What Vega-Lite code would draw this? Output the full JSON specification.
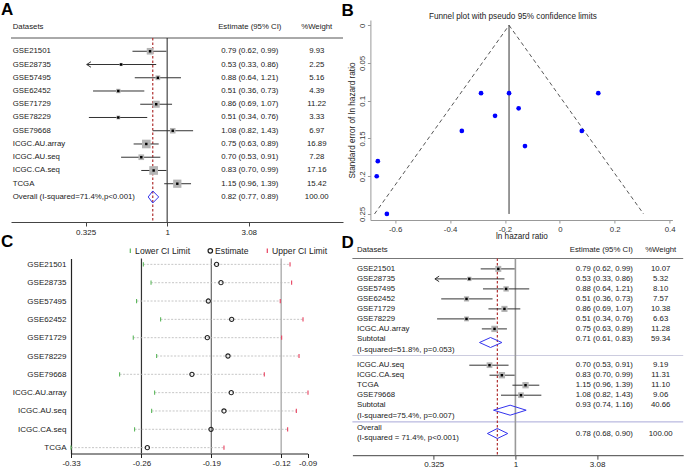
{
"$schema": "https://vega.github.io/schema/vega-lite/v6.json",
"padding": {"left": 1, "top": 1, "right": 0, "bottom": 0},
"background": "white",
"config": {"font": "Liberation Sans", "view": {"stroke": null}, "axis": {"grid": false}},
"datasets": {
"A": [
{"kind":"header","r":-1.83,"label":"Datasets","est":"Estimate (95% CI)","wt":"%Weight"},
{"kind":"study","r":0,"label":"GSE21501","hr":0.79,"lo":0.62,"hi":0.99,"w":9.93,"est":"0.79 (0.62, 0.99)","wt":"9.93"},
{"kind":"study","r":1,"label":"GSE28735","hr":0.53,"lo":0.33,"hi":0.86,"w":2.25,"est":"0.53 (0.33, 0.86)","wt":"2.25"},
{"kind":"study","r":2,"label":"GSE57495","hr":0.88,"lo":0.64,"hi":1.21,"w":5.16,"est":"0.88 (0.64, 1.21)","wt":"5.16"},
{"kind":"study","r":3,"label":"GSE62452","hr":0.51,"lo":0.36,"hi":0.73,"w":4.39,"est":"0.51 (0.36, 0.73)","wt":"4.39"},
{"kind":"study","r":4,"label":"GSE71729","hr":0.86,"lo":0.69,"hi":1.07,"w":11.22,"est":"0.86 (0.69, 1.07)","wt":"11.22"},
{"kind":"study","r":5,"label":"GSE78229","hr":0.51,"lo":0.34,"hi":0.76,"w":3.33,"est":"0.51 (0.34, 0.76)","wt":"3.33"},
{"kind":"study","r":6,"label":"GSE79668","hr":1.08,"lo":0.82,"hi":1.43,"w":6.97,"est":"1.08 (0.82, 1.43)","wt":"6.97"},
{"kind":"study","r":7,"label":"ICGC.AU.array","hr":0.75,"lo":0.63,"hi":0.89,"w":16.89,"est":"0.75 (0.63, 0.89)","wt":"16.89"},
{"kind":"study","r":8,"label":"ICGC.AU.seq","hr":0.70,"lo":0.53,"hi":0.91,"w":7.28,"est":"0.70 (0.53, 0.91)","wt":"7.28"},
{"kind":"study","r":9,"label":"ICGC.CA.seq","hr":0.83,"lo":0.70,"hi":0.99,"w":17.16,"est":"0.83 (0.70, 0.99)","wt":"17.16"},
{"kind":"study","r":10,"label":"TCGA","hr":1.15,"lo":0.96,"hi":1.39,"w":15.42,"est":"1.15 (0.96, 1.39)","wt":"15.42"},
{"kind":"overall","r":11,"label":"Overall (I-squared=71.4%,p<0.001)","hr":0.82,"lo":0.77,"hi":0.89,"w":100,"est":"0.82 (0.77, 0.89)","wt":"100.00"}
],
"B": [
{"s":"GSE21501","lnhr":-0.236,"se":0.12},
{"s":"GSE28735","lnhr":-0.63,"se":0.25},
{"s":"GSE57495","lnhr":-0.127,"se":0.16},
{"s":"GSE62452","lnhr":-0.663,"se":0.18},
{"s":"GSE71729","lnhr":-0.15,"se":0.11},
{"s":"GSE78229","lnhr":-0.667,"se":0.2},
{"s":"GSE79668","lnhr":0.08,"se":0.14},
{"s":"ICGC.AU.array","lnhr":-0.287,"se":0.09},
{"s":"ICGC.AU.seq","lnhr":-0.357,"se":0.14},
{"s":"ICGC.CA.seq","lnhr":-0.185,"se":0.09},
{"s":"TCGA","lnhr":0.14,"se":0.09}
],
"Bf": [
{"side":"L","x":-0.185,"se":0},{"side":"L","x":-0.675,"se":0.25},
{"side":"R","x":-0.185,"se":0},{"side":"R","x":0.305,"se":0.25}
],
"C": [
{"study":"GSE21501","Lower CI Limit":-0.2581,"Estimate":-0.1847,"Upper CI Limit":-0.1111},
{"study":"GSE28735","Lower CI Limit":-0.2504,"Estimate":-0.1803,"Upper CI Limit":-0.1095},
{"study":"GSE57495","Lower CI Limit":-0.2649,"Estimate":-0.1930,"Upper CI Limit":-0.1209},
{"study":"GSE62452","Lower CI Limit":-0.2408,"Estimate":-0.1696,"Upper CI Limit":-0.0981},
{"study":"GSE71729","Lower CI Limit":-0.2682,"Estimate":-0.1940,"Upper CI Limit":-0.1195},
{"study":"GSE78229","Lower CI Limit":-0.2448,"Estimate":-0.1733,"Upper CI Limit":-0.1021},
{"study":"GSE79668","Lower CI Limit":-0.2819,"Estimate":-0.2094,"Upper CI Limit":-0.1369},
{"study":"ICGC.AU.array","Lower CI Limit":-0.2468,"Estimate":-0.1700,"Upper CI Limit":-0.0931},
{"study":"ICGC.AU.seq","Lower CI Limit":-0.2498,"Estimate":-0.1773,"Upper CI Limit":-0.1048},
{"study":"ICGC.CA.seq","Lower CI Limit":-0.2669,"Estimate":-0.1903,"Upper CI Limit":-0.1135},
{"study":"TCGA","Lower CI Limit":-0.3306,"Estimate":-0.2541,"Upper CI Limit":-0.1773}
],
"D": [
{"kind":"header","r":-1.94,"label":"Datasets","est":"Estimate (95% CI)","wt":"%Weight"},
{"kind":"study","r":0,"label":"GSE21501","hr":0.79,"lo":0.62,"hi":0.99,"w":10.07,"est":"0.79 (0.62, 0.99)","wt":"10.07"},
{"kind":"study","r":1,"label":"GSE28735","hr":0.53,"lo":0.33,"hi":0.86,"w":5.32,"est":"0.53 (0.33, 0.86)","wt":"5.32"},
{"kind":"study","r":2,"label":"GSE57495","hr":0.88,"lo":0.64,"hi":1.21,"w":8.10,"est":"0.88 (0.64, 1.21)","wt":"8.10"},
{"kind":"study","r":3,"label":"GSE62452","hr":0.51,"lo":0.36,"hi":0.73,"w":7.57,"est":"0.51 (0.36, 0.73)","wt":"7.57"},
{"kind":"study","r":4,"label":"GSE71729","hr":0.86,"lo":0.69,"hi":1.07,"w":10.38,"est":"0.86 (0.69, 1.07)","wt":"10.38"},
{"kind":"study","r":5,"label":"GSE78229","hr":0.51,"lo":0.34,"hi":0.76,"w":6.63,"est":"0.51 (0.34, 0.76)","wt":"6.63"},
{"kind":"study","r":6,"label":"ICGC.AU.array","hr":0.75,"lo":0.63,"hi":0.89,"w":11.28,"est":"0.75 (0.63, 0.89)","wt":"11.28"},
{"kind":"text","r":7,"label":"Subtotal","est":"0.71 (0.61, 0.83)","wt":"59.34"},
{"kind":"text","r":8.06,"label":"(I-squared=51.8%, p=0.053)"},
{"kind":"diamond","r":7.36,"hr":0.71,"lo":0.61,"hi":0.83},
{"kind":"study","r":9.63,"label":"ICGC.AU.seq","hr":0.70,"lo":0.53,"hi":0.91,"w":9.19,"est":"0.70 (0.53, 0.91)","wt":"9.19"},
{"kind":"study","r":10.63,"label":"ICGC.CA.seq","hr":0.83,"lo":0.70,"hi":0.99,"w":11.31,"est":"0.83 (0.70, 0.99)","wt":"11.31"},
{"kind":"study","r":11.63,"label":"TCGA","hr":1.15,"lo":0.96,"hi":1.39,"w":11.10,"est":"1.15 (0.96, 1.39)","wt":"11.10"},
{"kind":"study","r":12.63,"label":"GSE79668","hr":1.08,"lo":0.82,"hi":1.43,"w":9.06,"est":"1.08 (0.82, 1.43)","wt":"9.06"},
{"kind":"text","r":13.63,"label":"Subtotal","est":"0.93 (0.74, 1.16)","wt":"40.66"},
{"kind":"text","r":14.73,"label":"(I-squared=75.4%, p=0.007)"},
{"kind":"diamond","r":14.13,"hr":0.93,"lo":0.74,"hi":1.16},
{"kind":"text","r":15.9,"label":"Overall"},
{"kind":"text","r":16.46,"est":"0.78 (0.68, 0.90)","wt":"100.00"},
{"kind":"text","r":16.9,"label":"(I-squared = 71.4%, p<0.001)"},
{"kind":"diamond","r":16.46,"hr":0.78,"lo":0.68,"hi":0.90}
]
},
"spacing": -7.5,
"resolve": {"scale": {"color": "independent", "shape": "independent", "size": "independent"}},
"vconcat": [
{
"resolve": {"scale": {"color": "independent", "shape": "independent", "size": "independent"}},
"hconcat": [
{
"width": 272, "height": 202,
"title": {"text": "A", "anchor": "start", "frame": "group", "dx": -70, "offset": -12, "fontSize": 17, "fontWeight": "bold", "baseline": "alphabetic", "color": "#000"},
"data": {"name": "A"},
"layer": [
{"data": {"values": [{}]}, "mark": {"type": "rule", "color": "#555", "strokeWidth": 1}, "encoding": {"x": {"datum": 0.1162, "type": "quantitative", "scale": {"type": "log", "domain": [0.1162, 11.29], "range": [-60, 272], "nice": false}}, "x2": {"datum": 11.29}, "y": {"datum": -1.0, "type": "quantitative", "scale": {"domain": [-2.36, 12.89], "reverse": true, "nice": false, "zero": false}, "axis": null}}},
{"data": {"values": [{}]}, "mark": {"type": "rule", "color": "#222", "strokeWidth": 1}, "encoding": {"x": {"datum": 1, "type": "quantitative", "scale": {"type": "log", "domain": [0.1162, 11.29], "range": [-60, 272], "nice": false}, "axis": {"values": [0.325, 1, 3.08], "labelExpr": "datum.value < 0.5 ? '0.325' : (datum.value < 2 ? '1' : '3.08')", "title": null, "domainColor": "#444", "tickColor": "#444", "tickSize": 4, "labelFontSize": 8, "labelColor": "#222", "labelPadding": 2, "labelFlush": false}}, "y": {"datum": -1.0, "type": "quantitative", "scale": {"domain": [-2.36, 12.89], "reverse": true, "nice": false, "zero": false}, "axis": null}, "y2": {"datum": 12.89}}},
{"data": {"values": [{}]}, "mark": {"type": "rule", "color": "#b03030", "strokeWidth": 1.2, "strokeDash": [2.5, 2]}, "encoding": {"x": {"datum": 0.82, "type": "quantitative", "scale": {"type": "log", "domain": [0.1162, 11.29], "range": [-60, 272], "nice": false}}, "y": {"datum": -1.0, "type": "quantitative", "scale": {"domain": [-2.36, 12.89], "reverse": true, "nice": false, "zero": false}, "axis": null}, "y2": {"datum": 12.89}}},
{"transform": [{"filter": "datum.kind == 'study'"}], "mark": {"type": "rule", "color": "#333", "strokeWidth": 1}, "encoding": {"x": {"field": "lo", "type": "quantitative", "title": null, "scale": {"type": "log", "domain": [0.1162, 11.29], "range": [-60, 272], "nice": false}}, "x2": {"field": "hi"}, "y": {"field": "r", "type": "quantitative", "scale": {"domain": [-2.36, 12.89], "reverse": true, "nice": false, "zero": false}, "axis": null}}},
{"transform": [{"filter": "datum.kind == 'study'"}], "mark": {"type": "point", "shape": "square", "filled": true, "color": "#b4b4b4", "opacity": 1}, "encoding": {"x": {"field": "hr", "type": "quantitative", "title": null, "scale": {"type": "log", "domain": [0.1162, 11.29], "range": [-60, 272], "nice": false}}, "y": {"field": "r", "type": "quantitative", "scale": {"domain": [-2.36, 12.89], "reverse": true, "nice": false, "zero": false}, "axis": null}, "size": {"field": "w", "type": "quantitative", "scale": {"domain": [0, 100], "range": [0, 440]}, "legend": null}}},
{"transform": [{"filter": "datum.kind == 'study'"}], "mark": {"type": "point", "shape": "square", "filled": true, "color": "#000", "size": 6, "opacity": 1}, "encoding": {"x": {"field": "hr", "type": "quantitative", "title": null, "scale": {"type": "log", "domain": [0.1162, 11.29], "range": [-60, 272], "nice": false}}, "y": {"field": "r", "type": "quantitative", "scale": {"domain": [-2.36, 12.89], "reverse": true, "nice": false, "zero": false}, "axis": null}}},
{"transform": [{"filter": "datum.kind == 'study' && datum.lo <= 0.33"}], "mark": {"type": "point", "shape": "M2,-1.3L0,0L2,1.3", "filled": false, "color": "#333", "size": 18, "strokeWidth": 1, "opacity": 1}, "encoding": {"x": {"field": "lo", "type": "quantitative", "title": null, "scale": {"type": "log", "domain": [0.1162, 11.29], "range": [-60, 272], "nice": false}}, "y": {"field": "r", "type": "quantitative", "scale": {"domain": [-2.36, 12.89], "reverse": true, "nice": false, "zero": false}, "axis": null}}},
{"transform": [{"filter": "datum.kind == 'overall'"}], "mark": {"type": "rule", "color": "#3333ee", "strokeWidth": 1, "y2Offset": -6}, "encoding": {"x": {"field": "lo", "type": "quantitative", "title": null, "scale": {"type": "log", "domain": [0.1162, 11.29], "range": [-60, 272], "nice": false}}, "x2": {"field": "hr"}, "y": {"field": "r", "type": "quantitative", "scale": {"domain": [-2.36, 12.89], "reverse": true, "nice": false, "zero": false}, "axis": null}, "y2": {"field": "r"}}},
{"transform": [{"filter": "datum.kind == 'overall'"}], "mark": {"type": "rule", "color": "#3333ee", "strokeWidth": 1, "y2Offset": 6}, "encoding": {"x": {"field": "lo", "type": "quantitative", "title": null, "scale": {"type": "log", "domain": [0.1162, 11.29], "range": [-60, 272], "nice": false}}, "x2": {"field": "hr"}, "y": {"field": "r", "type": "quantitative", "scale": {"domain": [-2.36, 12.89], "reverse": true, "nice": false, "zero": false}, "axis": null}, "y2": {"field": "r"}}},
{"transform": [{"filter": "datum.kind == 'overall'"}], "mark": {"type": "rule", "color": "#3333ee", "strokeWidth": 1, "yOffset": -6}, "encoding": {"x": {"field": "hr", "type": "quantitative", "title": null, "scale": {"type": "log", "domain": [0.1162, 11.29], "range": [-60, 272], "nice": false}}, "x2": {"field": "hi"}, "y": {"field": "r", "type": "quantitative", "scale": {"domain": [-2.36, 12.89], "reverse": true, "nice": false, "zero": false}, "axis": null}, "y2": {"field": "r"}}},
{"transform": [{"filter": "datum.kind == 'overall'"}], "mark": {"type": "rule", "color": "#3333ee", "strokeWidth": 1, "yOffset": 6}, "encoding": {"x": {"field": "hr", "type": "quantitative", "title": null, "scale": {"type": "log", "domain": [0.1162, 11.29], "range": [-60, 272], "nice": false}}, "x2": {"field": "hi"}, "y": {"field": "r", "type": "quantitative", "scale": {"domain": [-2.36, 12.89], "reverse": true, "nice": false, "zero": false}, "axis": null}, "y2": {"field": "r"}}},
{"mark": {"type": "text", "align": "left", "baseline": "middle", "fontSize": 7.8, "color": "#222"}, "encoding": {"x": {"datum": 0.119, "type": "quantitative", "scale": {"type": "log", "domain": [0.1162, 11.29], "range": [-60, 272], "nice": false}}, "y": {"field": "r", "type": "quantitative", "scale": {"domain": [-2.36, 12.89], "reverse": true, "nice": false, "zero": false}, "axis": null}, "text": {"field": "label"}}},
{"mark": {"type": "text", "align": "center", "baseline": "middle", "fontSize": 7.8, "color": "#222"}, "encoding": {"x": {"datum": 3.124, "type": "quantitative", "scale": {"type": "log", "domain": [0.1162, 11.29], "range": [-60, 272], "nice": false}}, "y": {"field": "r", "type": "quantitative", "scale": {"domain": [-2.36, 12.89], "reverse": true, "nice": false, "zero": false}, "axis": null}, "text": {"field": "est"}}},
{"mark": {"type": "text", "align": "center", "baseline": "middle", "fontSize": 7.8, "color": "#222"}, "encoding": {"x": {"datum": 7.86, "type": "quantitative", "scale": {"type": "log", "domain": [0.1162, 11.29], "range": [-60, 272], "nice": false}}, "y": {"field": "r", "type": "quantitative", "scale": {"domain": [-2.36, 12.89], "reverse": true, "nice": false, "zero": false}, "axis": null}, "text": {"field": "wt"}}}
]
},
{
"width": 302, "height": 200,
"title": {"text": "B", "anchor": "start", "frame": "group", "dx": -29, "offset": -21, "fontSize": 17, "fontWeight": "bold", "baseline": "alphabetic", "color": "#000"},
"layer": [
{"data": {"name": "Bf"}, "mark": {"type": "line", "color": "#444", "strokeWidth": 0.9, "strokeDash": [4, 3]}, "encoding": {"x": {"field": "x", "type": "quantitative", "scale": {"domain": [-0.69, 0.41], "nice": false, "zero": false}, "axis": {"orient": "top", "title": "Funnel plot with pseudo 95% confidence limits", "labels": false, "ticks": false, "domain": false, "titleFontSize": 8.2, "titleFontWeight": "normal", "titleColor": "#222", "titleX": 142, "titleY": -1.5, "titleBaseline": "alphabetic", "titleAlign": "center"}}, "y": {"field": "se", "type": "quantitative", "scale": {"domain": [-0.007, 0.258], "reverse": true, "nice": false, "zero": false}, "axis": {"values": [0, 0.05, 0.1, 0.15, 0.2, 0.25], "format": "~g", "labelAngle": -90, "labelAlign": "center", "labelBaseline": "bottom", "labelPadding": 1, "labelOverlap": false, "tickSize": 3, "title": "Standard error of ln hazard ratio", "titleFontSize": 8.2, "titleFontWeight": "normal", "titleColor": "#222", "titlePadding": 2, "domainColor": "#999", "tickColor": "#999", "labelFontSize": 7.8, "labelColor": "#333"}}, "detail": {"field": "side"}}},
{"data": {"values": [{}]}, "mark": {"type": "rule", "color": "#333", "strokeWidth": 1}, "encoding": {"x": {"datum": -0.185, "type": "quantitative", "scale": {"domain": [-0.69, 0.41], "nice": false, "zero": false}, "axis": null}, "y": {"datum": 0, "type": "quantitative", "scale": {"domain": [-0.007, 0.258], "reverse": true, "nice": false, "zero": false}, "axis": {"values": [0, 0.05, 0.1, 0.15, 0.2, 0.25], "format": "~g", "labelAngle": -90, "labelAlign": "center", "labelBaseline": "bottom", "labelPadding": 1, "labelOverlap": false, "tickSize": 3, "title": "Standard error of ln hazard ratio", "titleFontSize": 8.2, "titleFontWeight": "normal", "titleColor": "#222", "titlePadding": 2, "domainColor": "#999", "tickColor": "#999", "labelFontSize": 7.8, "labelColor": "#333"}}, "y2": {"datum": 0.25}}},
{"data": {"name": "B"}, "mark": {"type": "circle", "color": "#0000ff", "size": 22, "opacity": 1}, "encoding": {"x": {"field": "lnhr", "type": "quantitative", "scale": {"domain": [-0.69, 0.41], "nice": false, "zero": false}, "axis": {"orient": "bottom", "values": [-0.6, -0.4, -0.2, 0, 0.2, 0.4], "labelExpr": "replace(format(datum.value, '~g'), '\u2212', '-')", "title": "ln hazard ratio", "titleFontSize": 8.2, "titleFontWeight": "normal", "titleColor": "#222", "titlePadding": 0, "domainColor": "#999", "tickColor": "#999", "tickSize": 3, "labelFontSize": 7.8, "labelColor": "#333", "labelPadding": 2, "labelFlush": false}}, "y": {"field": "se", "type": "quantitative", "scale": {"domain": [-0.007, 0.258], "reverse": true, "nice": false, "zero": false}, "axis": {"values": [0, 0.05, 0.1, 0.15, 0.2, 0.25], "format": "~g", "labelAngle": -90, "labelAlign": "center", "labelBaseline": "bottom", "labelPadding": 1, "labelOverlap": false, "tickSize": 3, "title": "Standard error of ln hazard ratio", "titleFontSize": 8.2, "titleFontWeight": "normal", "titleColor": "#222", "titlePadding": 2, "domainColor": "#999", "tickColor": "#999", "labelFontSize": 7.8, "labelColor": "#333"}}}}
],
"resolve": {"axis": {"x": "independent"}}
}
],
"spacing": 27.4,
"bounds": "flush"
},
{
"resolve": {"scale": {"color": "independent", "shape": "independent", "size": "independent"}},
"spacing": 44.4,
"bounds": "flush",
"hconcat": [
{
"width": 236.6, "height": 195,
"title": {"text": "C", "anchor": "start", "frame": "group", "dx": -70, "offset": -17, "fontSize": 17, "fontWeight": "bold", "baseline": "alphabetic", "color": "#000"},
"data": {"name": "C"},
"layer": [
{"data": {"values": [{}]}, "mark": {"type": "rule", "color": "#333", "strokeWidth": 1.2}, "encoding": {"x": {"datum": -0.26, "type": "quantitative", "scale": {"domain": [-0.3306, -0.0935], "nice": false, "zero": false}}}},
{"data": {"values": [{}]}, "mark": {"type": "rule", "color": "#666", "strokeWidth": 1.2}, "encoding": {"x": {"datum": -0.19, "type": "quantitative", "scale": {"domain": [-0.3306, -0.0935], "nice": false, "zero": false}}}},
{"data": {"values": [{}]}, "mark": {"type": "rule", "color": "#a0a0a0", "strokeWidth": 1.2}, "encoding": {"x": {"datum": -0.12, "type": "quantitative", "scale": {"domain": [-0.3306, -0.0935], "nice": false, "zero": false}}}},
{"mark": {"type": "rule", "color": "#b8b8b8", "strokeWidth": 0.8, "strokeDash": [2, 1.5]}, "encoding": {"x": {"field": "Lower CI Limit", "type": "quantitative", "title": null, "scale": {"domain": [-0.3306, -0.0935], "nice": false, "zero": false}}, "x2": {"field": "Upper CI Limit"}, "y": {"field": "study", "type": "nominal", "title": null, "scale": {"type": "point", "padding": 0.32}, "sort": null}}},
{"transform": [{"fold": ["Lower CI Limit", "Estimate", "Upper CI Limit"], "as": ["key", "value"]}], "mark": {"type": "point", "filled": false, "size": 18, "strokeWidth": 1.1, "opacity": 1}, "encoding": {
"x": {"field": "value", "type": "quantitative", "scale": {"domain": [-0.3306, -0.0935], "nice": false, "zero": false}, "axis": {"values": [-0.3306, -0.26, -0.19, -0.12, -0.0935], "labelExpr": "replace(format(datum.value, '.2f'), '\u2212', '-')", "title": null, "domainColor": "#222", "tickColor": "#222", "tickSize": 4, "labelFontSize": 8, "labelColor": "#222", "labelPadding": 2, "labelFlush": false}},
"y": {"field": "study", "type": "nominal", "sort": null, "scale": {"type": "point", "padding": 0.32}, "axis": {"title": null, "ticks": false, "domainColor": "#222", "domainWidth": 1.2, "labelFontSize": 8, "labelColor": "#222", "labelPadding": 5}},
"color": {"field": "key", "type": "nominal", "scale": {"domain": ["Lower CI Limit", "Estimate", "Upper CI Limit"], "range": ["#5cb85c", "#222222", "#e8405e"]}, "legend": {"orient": "none", "legendX": 55, "legendY": -12, "direction": "horizontal", "title": null, "labelFontSize": 8.6, "labelColor": "#222", "symbolSize": 20, "symbolStrokeWidth": 1.2, "columnPadding": 14, "labelOffset": 0.5}},
"shape": {"field": "key", "type": "nominal", "scale": {"domain": ["Lower CI Limit", "Estimate", "Upper CI Limit"], "range": ["M0,-1L0,1", "circle", "M0,-1L0,1"]}, "legend": {"orient": "none", "legendX": 55, "legendY": -12, "direction": "horizontal", "title": null, "labelFontSize": 8.6, "labelColor": "#222", "symbolSize": 20, "symbolStrokeWidth": 1.2, "columnPadding": 14, "labelOffset": 0.5}}
}}
]
},
{
"width": 330.8, "height": 196.7,
"title": {"text": "D", "anchor": "start", "frame": "group", "dx": -11, "offset": -19, "fontSize": 17, "fontWeight": "bold", "baseline": "alphabetic", "color": "#000"},
"data": {"name": "D"},
"layer": [
{"data": {"values": [{}]}, "mark": {"type": "rule", "color": "#777", "strokeWidth": 1}, "encoding": {"y": {"datum": -1.04, "type": "quantitative", "scale": {"domain": [-2.87, 18.63], "range": [-18.3, 196.7], "nice": false, "zero": false}, "axis": null}}},
{"data": {"values": [{}]}, "mark": {"type": "rule", "color": "#ccccdf", "strokeWidth": 1.2}, "encoding": {"y": {"datum": 8.66, "type": "quantitative", "scale": {"domain": [-2.87, 18.63], "range": [-18.3, 196.7], "nice": false, "zero": false}, "axis": null}}},
{"data": {"values": [{}]}, "mark": {"type": "rule", "color": "#a8a8d8", "strokeWidth": 1}, "encoding": {"y": {"datum": 15.3, "type": "quantitative", "scale": {"domain": [-2.87, 18.63], "range": [-18.3, 196.7], "nice": false, "zero": false}, "axis": null}}},
{"data": {"values": [{}]}, "mark": {"type": "rule", "color": "#999", "strokeWidth": 1.6}, "encoding": {"x": {"datum": 1, "type": "quantitative", "scale": {"type": "log", "domain": [0.1059, 10.09], "nice": false}, "axis": {"values": [0.325, 1, 3.08], "labelExpr": "datum.value < 0.5 ? '0.325' : (datum.value < 2 ? '1' : '3.08')", "title": null, "domainColor": "#444", "tickColor": "#444", "tickSize": 4, "labelFontSize": 8, "labelColor": "#222", "labelPadding": 1.5, "labelFlush": false}}, "y": {"datum": -1.04, "type": "quantitative", "scale": {"domain": [-2.87, 18.63], "range": [-18.3, 196.7], "nice": false, "zero": false}, "axis": null}, "y2": {"datum": 18.63}}},
{"data": {"values": [{}]}, "mark": {"type": "rule", "color": "#b03030", "strokeWidth": 1.2, "strokeDash": [2.5, 2]}, "encoding": {"x": {"datum": 0.78, "type": "quantitative", "scale": {"type": "log", "domain": [0.1059, 10.09], "nice": false}}, "y": {"datum": -1.04, "type": "quantitative", "scale": {"domain": [-2.87, 18.63], "range": [-18.3, 196.7], "nice": false, "zero": false}, "axis": null}, "y2": {"datum": 18.63}}},
{"transform": [{"filter": "datum.kind == 'study'"}], "mark": {"type": "rule", "color": "#333", "strokeWidth": 1}, "encoding": {"x": {"field": "lo", "type": "quantitative", "title": null, "scale": {"type": "log", "domain": [0.1059, 10.09], "nice": false}}, "x2": {"field": "hi"}, "y": {"field": "r", "type": "quantitative", "scale": {"domain": [-2.87, 18.63], "range": [-18.3, 196.7], "nice": false, "zero": false}, "axis": null}}},
{"transform": [{"filter": "datum.kind == 'study'"}], "mark": {"type": "point", "shape": "square", "filled": true, "color": "#b4b4b4", "opacity": 1}, "encoding": {"x": {"field": "hr", "type": "quantitative", "title": null, "scale": {"type": "log", "domain": [0.1059, 10.09], "nice": false}}, "y": {"field": "r", "type": "quantitative", "scale": {"domain": [-2.87, 18.63], "range": [-18.3, 196.7], "nice": false, "zero": false}, "axis": null}, "size": {"field": "w", "type": "quantitative", "scale": {"domain": [0, 100], "range": [0, 360]}, "legend": null}}},
{"transform": [{"filter": "datum.kind == 'study'"}], "mark": {"type": "point", "shape": "square", "filled": true, "color": "#000", "size": 6, "opacity": 1}, "encoding": {"x": {"field": "hr", "type": "quantitative", "title": null, "scale": {"type": "log", "domain": [0.1059, 10.09], "nice": false}}, "y": {"field": "r", "type": "quantitative", "scale": {"domain": [-2.87, 18.63], "range": [-18.3, 196.7], "nice": false, "zero": false}, "axis": null}}},
{"transform": [{"filter": "datum.kind == 'study' && datum.lo <= 0.33"}], "mark": {"type": "point", "shape": "M2,-1.3L0,0L2,1.3", "filled": false, "color": "#333", "size": 18, "strokeWidth": 1, "opacity": 1}, "encoding": {"x": {"field": "lo", "type": "quantitative", "title": null, "scale": {"type": "log", "domain": [0.1059, 10.09], "nice": false}}, "y": {"field": "r", "type": "quantitative", "scale": {"domain": [-2.87, 18.63], "range": [-18.3, 196.7], "nice": false, "zero": false}, "axis": null}}},
{"transform": [{"filter": "datum.kind == 'diamond'"}], "mark": {"type": "rule", "color": "#3333ee", "strokeWidth": 1, "y2Offset": -5}, "encoding": {"x": {"field": "lo", "type": "quantitative", "title": null, "scale": {"type": "log", "domain": [0.1059, 10.09], "nice": false}}, "x2": {"field": "hr"}, "y": {"field": "r", "type": "quantitative", "scale": {"domain": [-2.87, 18.63], "range": [-18.3, 196.7], "nice": false, "zero": false}, "axis": null}, "y2": {"field": "r"}}},
{"transform": [{"filter": "datum.kind == 'diamond'"}], "mark": {"type": "rule", "color": "#3333ee", "strokeWidth": 1, "y2Offset": 5}, "encoding": {"x": {"field": "lo", "type": "quantitative", "title": null, "scale": {"type": "log", "domain": [0.1059, 10.09], "nice": false}}, "x2": {"field": "hr"}, "y": {"field": "r", "type": "quantitative", "scale": {"domain": [-2.87, 18.63], "range": [-18.3, 196.7], "nice": false, "zero": false}, "axis": null}, "y2": {"field": "r"}}},
{"transform": [{"filter": "datum.kind == 'diamond'"}], "mark": {"type": "rule", "color": "#3333ee", "strokeWidth": 1, "yOffset": -5}, "encoding": {"x": {"field": "hr", "type": "quantitative", "title": null, "scale": {"type": "log", "domain": [0.1059, 10.09], "nice": false}}, "x2": {"field": "hi"}, "y": {"field": "r", "type": "quantitative", "scale": {"domain": [-2.87, 18.63], "range": [-18.3, 196.7], "nice": false, "zero": false}, "axis": null}, "y2": {"field": "r"}}},
{"transform": [{"filter": "datum.kind == 'diamond'"}], "mark": {"type": "rule", "color": "#3333ee", "strokeWidth": 1, "yOffset": 5}, "encoding": {"x": {"field": "hr", "type": "quantitative", "title": null, "scale": {"type": "log", "domain": [0.1059, 10.09], "nice": false}}, "x2": {"field": "hi"}, "y": {"field": "r", "type": "quantitative", "scale": {"domain": [-2.87, 18.63], "range": [-18.3, 196.7], "nice": false, "zero": false}, "axis": null}, "y2": {"field": "r"}}},
{"transform": [{"filter": "isValid(datum.label)"}], "mark": {"type": "text", "align": "left", "baseline": "middle", "fontSize": 7.8, "color": "#222"}, "encoding": {"x": {"datum": 0.1128, "type": "quantitative", "scale": {"type": "log", "domain": [0.1059, 10.09], "nice": false}}, "y": {"field": "r", "type": "quantitative", "scale": {"domain": [-2.87, 18.63], "range": [-18.3, 196.7], "nice": false, "zero": false}, "axis": null}, "text": {"field": "label"}}},
{"transform": [{"filter": "isValid(datum.est)"}], "mark": {"type": "text", "align": "right", "baseline": "middle", "fontSize": 7.8, "color": "#222"}, "encoding": {"x": {"datum": 5.05, "type": "quantitative", "scale": {"type": "log", "domain": [0.1059, 10.09], "nice": false}}, "y": {"field": "r", "type": "quantitative", "scale": {"domain": [-2.87, 18.63], "range": [-18.3, 196.7], "nice": false, "zero": false}, "axis": null}, "text": {"field": "est"}}},
{"transform": [{"filter": "isValid(datum.wt)"}], "mark": {"type": "text", "align": "center", "baseline": "middle", "fontSize": 7.8, "color": "#222"}, "encoding": {"x": {"datum": 7.40, "type": "quantitative", "scale": {"type": "log", "domain": [0.1059, 10.09], "nice": false}}, "y": {"field": "r", "type": "quantitative", "scale": {"domain": [-2.87, 18.63], "range": [-18.3, 196.7], "nice": false, "zero": false}, "axis": null}, "text": {"field": "wt"}}}
]
}
]
}
]
}
